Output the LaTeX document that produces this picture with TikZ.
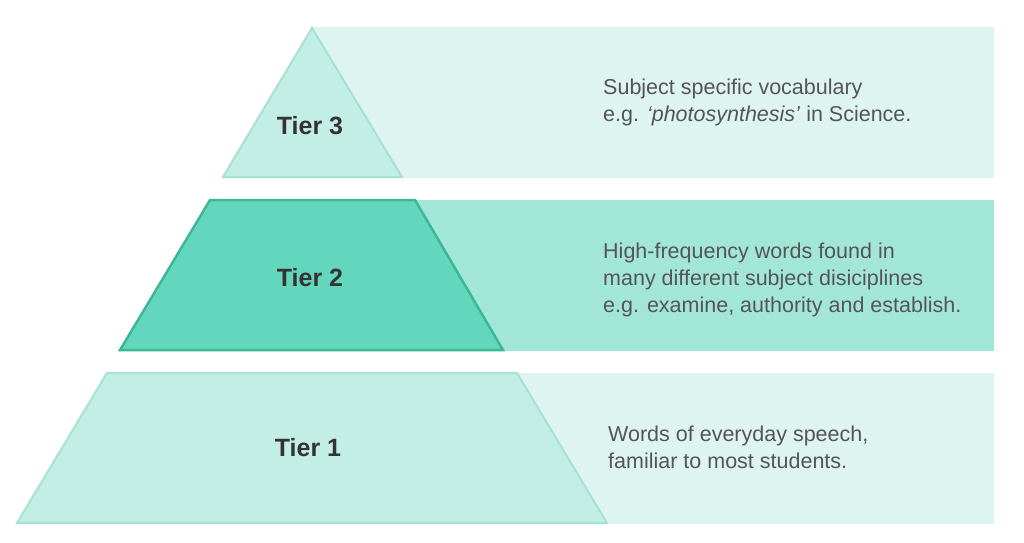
\documentclass[tikz,border=0pt]{standalone}
\usepackage{fontspec}
\setmainfont{Liberation Sans}
\usetikzlibrary{positioning}

\definecolor{paleband}{HTML}{DDF4F0}
\definecolor{midband}{HTML}{A2E6D8}
\definecolor{palefill}{HTML}{C3EEE5}
\definecolor{paleedge}{HTML}{A6E2D4}
\definecolor{darkfill}{HTML}{63D7BE}
\definecolor{darkedge}{HTML}{3DB894}
\definecolor{labelgrey}{HTML}{333333}
\definecolor{textgrey}{HTML}{555555}

\begin{document}
\begin{tikzpicture}[x=1pt,y=-1pt,
        tierlabel/.style={font=\fontsize{25}{30}\selectfont\bfseries, text=labelgrey, inner sep=0},
        tiertext/.style={font=\fontsize{21.5}{27}\selectfont, text=textgrey, align=left, anchor=west, inner sep=0}]

        \useasboundingbox[fill=white] (0,0) rectangle (1024,542);

        % Bands behind the pyramid
        \filldraw[fill = paleband, draw = paleband] (312,27) rectangle (993,177);
        \filldraw[fill = midband, draw = midband] (415,200) rectangle (993,350);
        \filldraw[fill = paleband, draw = paleband] (517,373) rectangle (993,523);

        % Pyramid
        \filldraw[fill = palefill, draw = paleedge, line width = 2] (312,28) -- (402,177) -- (223,177) -- cycle;
        \filldraw[fill = darkfill, draw = darkedge, line width = 2.5] (210,200) -- (415,200) -- (503,350) -- (120,350) -- cycle;
        \filldraw[fill = palefill, draw = paleedge, line width = 2] (107,373) -- (517,373) -- (607,523) -- (17,523) -- cycle;

        \node[tierlabel] (lbl3) at (310,126) {Tier 3};
        \node[tierlabel] (lbl2) at (310,278) {Tier 2};
        \node[tierlabel] (lbl1) at (308,448) {Tier 1};

        \node[tiertext] (desc3) at (603,102) {Subject specific vocabulary\\e.g. \textit{‘photosynthesis’} in Science.};
        \node[tiertext] (desc2) at (603,280) {High-frequency words found in\\many different subject disiciplines\\e.g. examine, authority and establish.};
        \node[tiertext] (desc1) at (608,447) {Words of everyday speech,\\familiar to most students.};
    \end{tikzpicture}
\end{document}
